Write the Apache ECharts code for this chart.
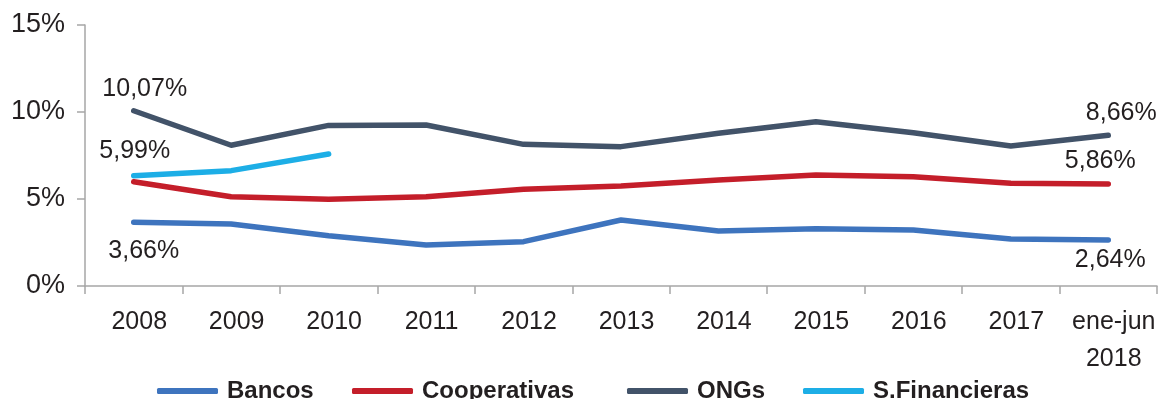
<!DOCTYPE html>
<html>
<head>
<meta charset="utf-8">
<script src="https://cdn.jsdelivr.net/npm/echarts@6/dist/echarts.min.js"></script>
<style>
  html, body { margin: 0; padding: 0; background: #fff; }
  #chart { width: 1160px; height: 399px; }
</style>
</head>
<body>
<div id="chart"></div>
<script>
// Categories and series (percent values)
const categories = ['2008', '2009', '2010', '2011', '2012', '2013', '2014', '2015', '2016', '2017', 'ene-jun\n2018'];
const bancos = [3.66, 3.56, 2.89, 2.36, 2.55, 3.79, 3.16, 3.29, 3.22, 2.70, 2.64];
const cooperativas = [5.99, 5.13, 4.98, 5.13, 5.56, 5.75, 6.09, 6.38, 6.28, 5.90, 5.86];
const ongs = [10.07, 8.09, 9.23, 9.25, 8.14, 8.01, 8.78, 9.44, 8.81, 8.05, 8.66];
const sFinancieras = [6.34, 6.63, 7.59];
const yTicks = [0, 5, 10, 15];

const seriesNames = ['Bancos', 'Cooperativas', 'ONGs', 'S.Financieras'];
const colors = ['#3E74BE', '#C41E2A', '#425369', '#1DAEE6'];
const textColor = '#231F20';
const axisColor = '#A6A6A6';
const FONT = '"Liberation Sans", Arial, Helvetica, sans-serif';

const fmt = v => v.toFixed(2).replace('.', ',') + '%';

// Attach value labels to selected points
function withLabels(values, labelSpecs) {
  return values.map((v, i) => {
    const spec = labelSpecs[i];
    if (!spec) return v;
    return {
      value: v,
      label: {
        show: true,
        position: spec.pos,
        distance: 0,
        offset: spec.offset,
        formatter: p => fmt(p.value),
        fontFamily: FONT,
        fontSize: 25,
        color: textColor
      }
    };
  });
}

const last = categories.length - 1;
const bancosData = withLabels(bancos, { 0: { pos: 'bottom', offset: [10, 15] }, [last]: { pos: 'bottom', offset: [2, 7] } });
const coopData = withLabels(cooperativas, { 0: { pos: 'top', offset: [1, -17] }, [last]: { pos: 'top', offset: [-8, -9] } });
const ongsData = withLabels(ongs, { 0: { pos: 'top', offset: [11, -8] }, [last]: { pos: 'top', offset: [13, -9] } });

function lineSeries(name, data, color, z) {
  return {
    name, type: 'line', data,
    symbol: 'circle',
    symbolSize: 2,
    showSymbol: true,
    z,
    label: { show: false },
    lineStyle: { color, width: 5.5, cap: 'round', join: 'round' },
    itemStyle: { color },
    emphasis: { disabled: true },
    animation: false
  };
}

// One legend block per entry, placed individually
const legendLefts = [157, 352, 627, 803];
const legends = seriesNames.map((n, i) => ({
  data: [n],
  left: legendLefts[i],
  top: 379,
  icon: 'roundRect',
  itemWidth: 61,
  itemHeight: 6,
  itemGap: 0,
  padding: 0,
  selectedMode: false,
  textStyle: { fontFamily: FONT, fontSize: 24, fontWeight: 'bold', color: textColor, padding: [0, 0, 0, 4] }
}));

const chart = echarts.init(document.getElementById('chart'), null, { renderer: 'canvas' });
chart.setOption({
  backgroundColor: '#ffffff',
  animation: false,
  legend: legends,
  grid: { left: 85, right: 3, top: 25, bottom: 113, containLabel: false },
  xAxis: {
    type: 'category',
    data: categories,
    boundaryGap: true,
    axisLine: { show: true, lineStyle: { color: axisColor, width: 1.5 } },
    axisTick: { show: true, length: 8, alignWithLabel: false, lineStyle: { color: axisColor, width: 1.5 } },
    axisLabel: {
      interval: 0,
      margin: 18,
      fontFamily: FONT,
      fontSize: 25,
      lineHeight: 37,
      color: textColor,
      padding: [0, 0, 0, 11],
      verticalAlign: 'top'
    },
    splitLine: { show: false }
  },
  yAxis: {
    type: 'value',
    min: yTicks[0],
    max: yTicks[yTicks.length - 1],
    interval: yTicks[1] - yTicks[0],
    axisLine: { show: true, lineStyle: { color: axisColor, width: 1.5 } },
    axisTick: { show: true, length: 8, lineStyle: { color: axisColor, width: 1.5 } },
    axisLabel: {
      formatter: '{value}%',
      margin: 20,
      fontFamily: FONT,
      fontSize: 27,
      color: textColor
    },
    splitLine: { show: false }
  },
  series: [
    lineSeries('Bancos', bancosData, colors[0], 2),
    lineSeries('Cooperativas', coopData, colors[1], 3),
    lineSeries('ONGs', ongsData, colors[2], 4),
    lineSeries('S.Financieras', sFinancieras, colors[3], 5)
  ]
});
</script>
</body>
</html>
